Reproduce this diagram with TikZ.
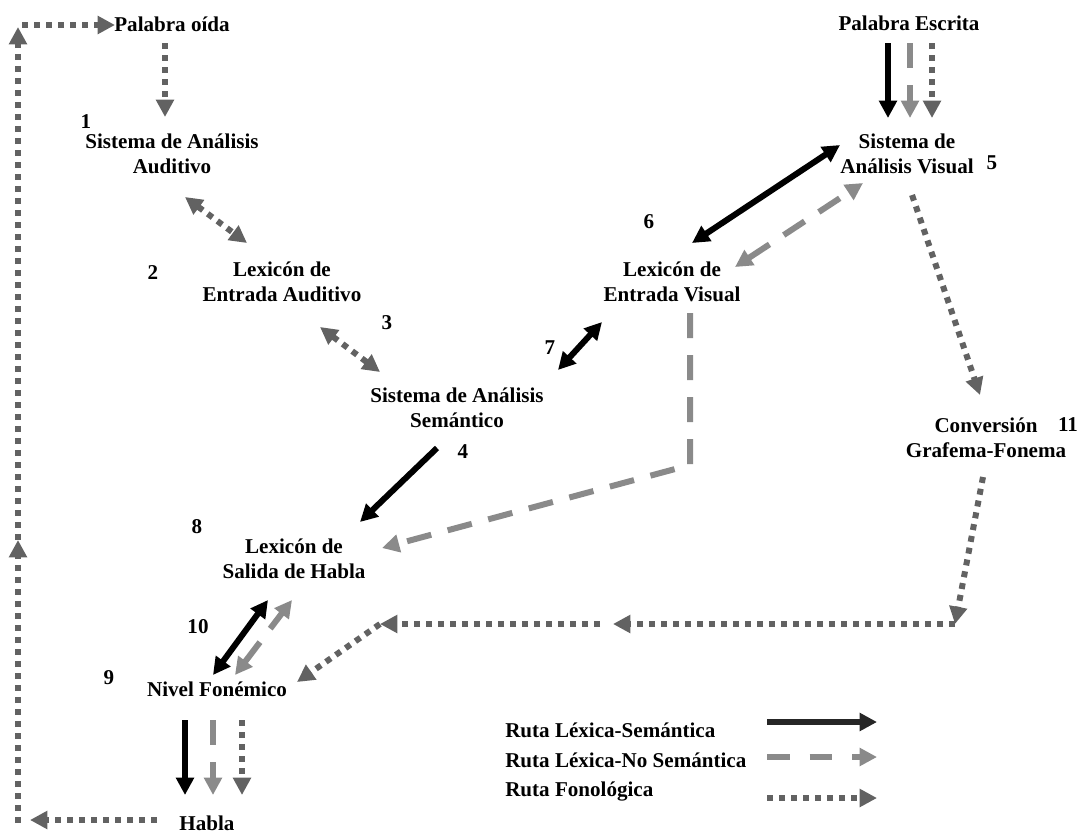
\documentclass[tikz,border=0pt]{standalone}
\usepackage{fontspec}
\setmainfont{Liberation Serif}
\usetikzlibrary{arrows.meta}
\definecolor{gris}{HTML}{8A8A8A}
\definecolor{grisosc}{HTML}{626262}
\tikzset{txt/.style={align=center,inner sep=0pt,font=\fontsize{15.8}{18.8}\selectfont\bfseries}}
\tikzset{num/.style={inner sep=0pt,font=\fontsize{15.8}{18.8}\selectfont\bfseries}}
\tikzset{lexsem/.style={line width=4.5pt,black}}
\tikzset{lexnosem/.style={line width=4.5pt,gris,dash pattern=on 18.75pt off 12.75pt}}
\tikzset{fono/.style={line width=4.5pt,grisosc,dash pattern=on 4.5pt off 4.5pt}}

\begin{document}
\begin{tikzpicture}[x=0.75pt,y=-0.75pt,>={Triangle[length=13pt,width=13pt]}]
    \useasboundingbox (0,0) rectangle (1084,835);

    % bloques
    \node[txt] (oida)at (172,24) {Palabra oída};
    \node[txt] (escrita)at (909,23) {Palabra Escrita};
    \node[txt] (aud)at (172,154) {Sistema de Análisis\\Auditivo};
    \node[txt] (leaud)at (282,282) {Lexicón de\\Entrada Auditivo};
    \node[txt] (sem)at (457,408) {Sistema de Análisis\\Semántico};
    \node[txt] (levis)at (672,282) {Lexicón de\\Entrada Visual};
    \node[txt] (vis)at (907,154) {Sistema de\\Análisis Visual};
    \node[txt] (conv)at (986,438) {Conversión\\Grafema-Fonema};
    \node[txt] (sal)at (294,559) {Lexicón de\\Salida de Habla};
    \node[txt] (fon)at (217,689) {Nivel Fonémico};
    \node[txt] (habla)at (207,823) {Habla};

    % numeros
    \node[num] (n1)at (86,122) {1};
    \node[num] (n2)at (153,273) {2};
    \node[num] (n3)at (387,323) {3};
    \node[num] (n4)at (463,452) {4};
    \node[num] (n5)at (992,163) {5};
    \node[num] (n6)at (649,222) {6};
    \node[num] (n7)at (550,348) {7};
    \node[num] (n8)at (197,527) {8};
    \node[num] (n9)at (109,678) {9};
    \node[num] (n10)at (198,627) {10};
    \node[num] (n11)at (1068,425) {11};

    % extremos de las flechas
    \coordinate (oidaS) at (165,43);
    \coordinate (audN) at (165,117);
    \coordinate (audS) at (185,197);
    \coordinate (leaudN) at (247,243);
    \coordinate (leaudS) at (320,327);
    \coordinate (semN) at (380,372);
    \coordinate (semNE) at (558,370);
    \coordinate (levisSW) at (602,322);
    \coordinate (semS) at (437,448);
    \coordinate (salNE) at (360,522);
    \coordinate (escA) at (888,43);
    \coordinate (visA) at (888,118);
    \coordinate (escB) at (910,43);
    \coordinate (visB) at (910,118);
    \coordinate (escC) at (932,43);
    \coordinate (visC) at (932,118);
    \coordinate (visW) at (840,145);
    \coordinate (levisNE) at (692,243);
    \coordinate (visSW) at (863,183);
    \coordinate (levisE) at (735,267);
    \coordinate (levisS) at (690,313);
    \coordinate (esq) at (690,465);
    \coordinate (salE) at (382,548);
    \coordinate (visS) at (912,195);
    \coordinate (convN) at (980,395);
    \coordinate (convS) at (983,477);
    \coordinate (esqB) at (955,624);
    \coordinate (medA) at (613,624);
    \coordinate (medB) at (600,624);
    \coordinate (esqC) at (380,624);
    \coordinate (fonE) at (297,682);
    \coordinate (salA) at (268,600);
    \coordinate (fonA) at (213,675);
    \coordinate (salB) at (292,600);
    \coordinate (fonB) at (235,675);
    \coordinate (fonSA) at (185,720);
    \coordinate (hablaA) at (185,795);
    \coordinate (fonSB) at (213,720);
    \coordinate (hablaB) at (213,795);
    \coordinate (fonSC) at (242,720);
    \coordinate (hablaC) at (242,795);
    \coordinate (hablaW) at (157,820);
    \coordinate (bordeSW) at (30,820);
    \coordinate (bordeS) at (18,823);
    \coordinate (bordeM) at (18,540);
    \coordinate (bordeN) at (18,27);
    \coordinate (bordeNE) at (22,25);
    \coordinate (oidaW) at (115,25);

    % ruta lexica-semantica
    \draw [lexsem,->] (escA) to (visA);
    \draw [lexsem,<->] (levisNE) to (visW);
    \draw [lexsem,<->] (semNE) to (levisSW);
    \draw [lexsem,->] (semS) to (salNE);
    \draw [lexsem,<->] (fonA) to (salA);
    \draw [lexsem,->] (fonSA) to (hablaA);

    % ruta lexica-no semantica
    \draw [lexnosem,->] (escB) to (visB);
    \draw [lexnosem,<->] (levisE) to (visSW);
    \draw [lexnosem,->] (levisS) -- (esq) -- (salE);
    \draw [lexnosem,<->] (fonB) to (salB);
    \draw [lexnosem,->] (fonSB) to (hablaB);

    % ruta fonologica
    \draw [fono,->] (oidaS) to (audN);
    \draw [fono,<->] (audS) to (leaudN);
    \draw [fono,<->] (leaudS) to (semN);
    \draw [fono,->] (escC) to (visC);
    \draw [fono,->] (visS) to (convN);
    \draw [fono,->] (convS) to (esqB);
    \draw [fono,->] (esqB) to (medA);
    \draw [fono,->] (medB) to (esqC);
    \draw [fono,->] (esqC) to (fonE);
    \draw [fono,->] (fonSC) to (hablaC);
    \draw [fono,->] (hablaW) to (bordeSW);
    \draw [fono,->] (bordeS) to (bordeM);
    \draw [fono,->] (bordeM) to (bordeN);
    \draw [fono,->] (bordeNE) to (oidaW);

    % leyenda
    \node[txt,anchor=base west] (ley1)at (505,737) {Ruta Léxica-Semántica};
    \node[txt,anchor=base west] (ley2)at (505,767) {Ruta Léxica-No Semántica};
    \node[txt,anchor=base west] (ley3)at (505,796) {Ruta Fonológica};
    \coordinate (l1a) at (767,722);
    \coordinate (l1b) at (877,722);
    \coordinate (l2a) at (767,757);
    \coordinate (l2b) at (877,757);
    \coordinate (l3a) at (767,798);
    \coordinate (l3b) at (877,798);
    \draw [lexsem,black!85,->] (l1a) to (l1b);
    \draw [lexnosem,dash pattern=on 17pt off 15pt,->] (l2a) to (l2b);
    \draw [fono,->] (l3a) to (l3b);
\end{tikzpicture}
\end{document}
